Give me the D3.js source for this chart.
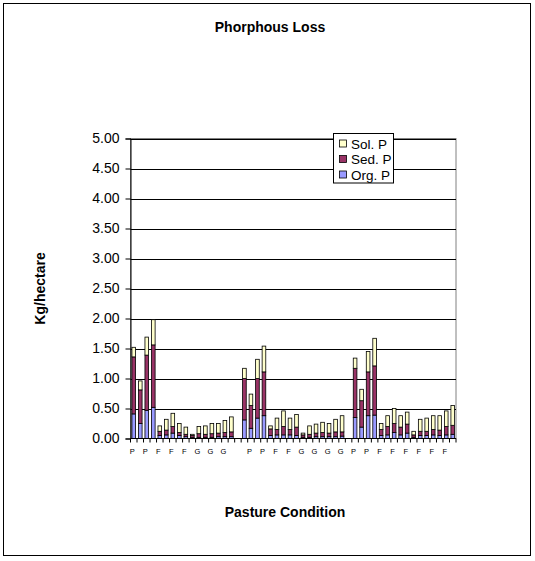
<!DOCTYPE html>
<html>
<head>
<meta charset="utf-8">
<script src="https://cdn.jsdelivr.net/npm/d3@7"></script>
<style>
  body { margin: 0; background: #fff; }
  svg { display: block; font-family: "Liberation Sans", Arial, sans-serif; }
</style>
</head>
<body>
<svg id="chart" width="535" height="561"></svg>
<script>
// Pasture condition per plot (P = poor, F = fair, G = good); "" marks a spacer slot between sites
const conditions = [
  "P","P","P","P","F","F","F","F","F","F","G","G","G","G","G","G",
  "",
  "P","P","P","P","F","F","F","F","F","G","G","G","G","G","G","G",
  "",
  "P","P","P","P","F","F","F","F","F","F","F","F","F","F","F","F"
];

// Phosphorus loss components, kg/hectare (null = spacer slot)
const orgP = [
  0.41,0.25,0.47,0.52,0.05,0.06,0.09,0.05,0.03,0.02,0.02,0.02,0.02,0.03,0.03,0.03,
  null,
  0.31,0.17,0.34,0.38,0.05,0.06,0.06,0.06,0.05,0.02,0.02,0.03,0.03,0.03,0.03,0.04,
  null,
  0.35,0.19,0.38,0.39,0.05,0.06,0.10,0.06,0.09,0.02,0.05,0.05,0.06,0.05,0.06,0.07
];
const sedP = [
  0.95,0.56,0.92,1.04,0.07,0.08,0.11,0.05,0.04,0.03,0.06,0.05,0.06,0.06,0.07,0.08,
  null,
  0.69,0.38,0.66,0.73,0.11,0.09,0.14,0.09,0.14,0.04,0.05,0.06,0.07,0.06,0.08,0.07,
  null,
  0.82,0.44,0.73,0.82,0.10,0.14,0.15,0.13,0.15,0.04,0.07,0.07,0.09,0.09,0.14,0.15
];
const solP = [
  0.16,0.15,0.30,0.42,0.09,0.18,0.22,0.15,0.12,0.02,0.12,0.14,0.17,0.16,0.20,0.25,
  null,
  0.17,0.19,0.32,0.43,0.05,0.19,0.26,0.19,0.21,0.03,0.14,0.15,0.17,0.16,0.21,0.27,
  null,
  0.17,0.19,0.34,0.46,0.10,0.18,0.25,0.19,0.20,0.06,0.20,0.22,0.23,0.24,0.26,0.33
];

const yTicks = [0, 0.5, 1, 1.5, 2, 2.5, 3, 3.5, 4, 4.5, 5];
const seriesKeys = ["Org. P", "Sed. P", "Sol. P"];
const seriesColors = ["#9999FF", "#993366", "#FFFFCC"];
const legendOrder = ["Sol. P", "Sed. P", "Org. P"];
const chartTitle = "Phorphous Loss";
const xTitle = "Pasture Condition";
const yTitle = "Kg/hectare";

const svg = d3.select("#chart");

// outer chart frame
svg.append("rect")
  .attr("x", 3.5).attr("y", 3.5)
  .attr("width", 527).attr("height", 552)
  .attr("fill", "#fff").attr("stroke", "#000").attr("stroke-width", 1);

const plot = { left: 130.5, right: 456, top: 138.5, bottom: 438.5 };

const rows = conditions.map((c, i) => ({
  idx: i, cond: c,
  "Org. P": orgP[i] ?? 0, "Sed. P": sedP[i] ?? 0, "Sol. P": solP[i] ?? 0,
  empty: orgP[i] == null
}));

const x = d3.scaleBand()
  .domain(rows.map(d => d.idx))
  .range([plot.left, plot.right])
  .paddingInner(0.44)
  .paddingOuter(0.22);

const y = d3.scaleLinear().domain([0, 5]).range([plot.bottom, plot.top]);

// plot area border
svg.append("rect")
  .attr("x", plot.left).attr("y", plot.top)
  .attr("width", plot.right - plot.left).attr("height", plot.bottom - plot.top)
  .attr("fill", "#fff").attr("stroke", "#808080").attr("stroke-width", 1);

// horizontal gridlines
svg.append("g")
  .selectAll("line")
  .data(yTicks.filter(t => t > 0))
  .join("line")
  .attr("x1", plot.left).attr("x2", plot.right)
  .attr("y1", d => Math.round(y(d)) + 0.5).attr("y2", d => Math.round(y(d)) + 0.5)
  .attr("stroke", "#000").attr("stroke-width", 1);

// stacked bars
const stacked = d3.stack().keys(seriesKeys)(rows);
const color = d3.scaleOrdinal().domain(seriesKeys).range(seriesColors);

svg.append("g")
  .selectAll("g")
  .data(stacked)
  .join("g")
  .attr("fill", d => color(d.key))
  .selectAll("rect")
  .data(d => d.filter(s => !s.data.empty))
  .join("rect")
  .attr("x", d => x(d.data.idx))
  .attr("width", x.bandwidth())
  .attr("y", d => y(d[1]))
  .attr("height", d => y(d[0]) - y(d[1]))
  .attr("stroke", "#000")
  .attr("stroke-width", 0.8);

// y axis
const yAxis = svg.append("g")
  .attr("transform", `translate(${plot.left},0)`)
  .call(d3.axisLeft(y).tickValues(yTicks).tickFormat(d3.format(".2f")).tickSize(5).tickPadding(6));
yAxis.select(".domain").attr("stroke", "#000");
yAxis.selectAll(".tick line").attr("stroke", "#000");
yAxis.selectAll(".tick text")
  .attr("font-size", 14).attr("fill", "#000")
  .attr("font-family", "Liberation Sans, Arial, sans-serif");

// x axis line, tick marks between categories, and every other category label
const step = x.step();
const xAxis = svg.append("g");
xAxis.append("line")
  .attr("x1", plot.left).attr("x2", plot.right)
  .attr("y1", plot.bottom).attr("y2", plot.bottom)
  .attr("stroke", "#000");
xAxis.selectAll("line.tk")
  .data(d3.range(conditions.length + 1))
  .join("line").attr("class", "tk")
  .attr("x1", i => plot.left + i * step).attr("x2", i => plot.left + i * step)
  .attr("y1", plot.bottom).attr("y2", plot.bottom + 4)
  .attr("stroke", "#000");
xAxis.selectAll("text")
  .data(rows.filter(d => d.idx % 2 === 0))
  .join("text")
  .attr("x", d => x(d.idx) + x.bandwidth() / 2 - 1.5)
  .attr("y", 454)
  .attr("text-anchor", "middle")
  .attr("font-size", 7.5)
  .text(d => d.cond);

// titles
svg.append("text")
  .attr("x", 270).attr("y", 31.5)
  .attr("text-anchor", "middle")
  .attr("font-size", 14).attr("font-weight", "bold")
  .text(chartTitle);

svg.append("text")
  .attr("x", 285).attr("y", 517)
  .attr("text-anchor", "middle")
  .attr("font-size", 14).attr("font-weight", "bold")
  .text(xTitle);

svg.append("text")
  .attr("transform", `translate(45,${(plot.top + plot.bottom) / 2}) rotate(-90)`)
  .attr("text-anchor", "middle")
  .attr("font-size", 14).attr("font-weight", "bold")
  .text(yTitle);

// legend
const lg = { x: 333.5, y: 133.5, w: 60, rowH: 15.5 };
const legend = svg.append("g");
legend.append("rect")
  .attr("x", lg.x).attr("y", lg.y)
  .attr("width", lg.w).attr("height", lg.rowH * legendOrder.length + 3)
  .attr("fill", "#fff").attr("stroke", "#000");
const items = legend.selectAll("g.item")
  .data(legendOrder)
  .join("g").attr("class", "item")
  .attr("transform", (d, i) => `translate(${lg.x},${lg.y + 2 + i * lg.rowH})`);
items.append("rect")
  .attr("x", 6).attr("y", 4.5)
  .attr("width", 7).attr("height", 7)
  .attr("fill", d => color(d)).attr("stroke", "#000").attr("stroke-width", 0.8);
items.append("text")
  .attr("x", 17.5).attr("y", 13)
  .attr("font-size", 13.5)
  .text(d => d);
</script>
</body>
</html>
